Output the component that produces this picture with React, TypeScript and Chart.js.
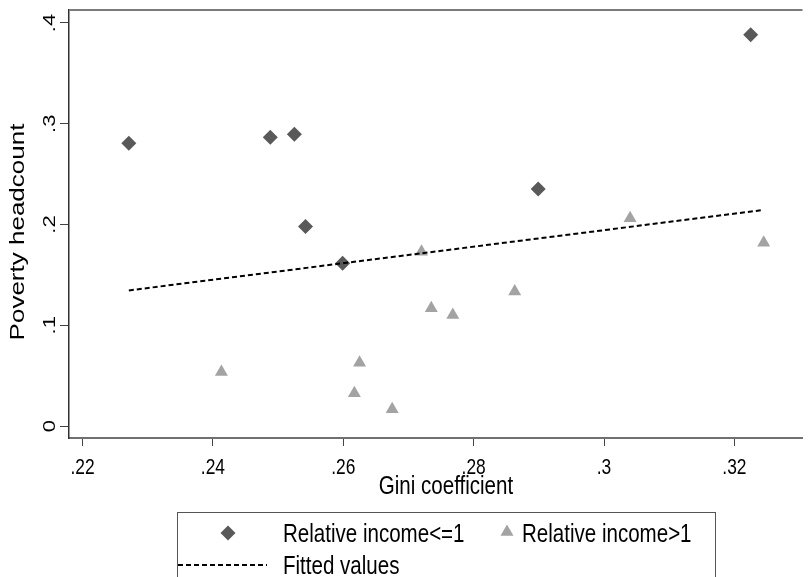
import React, { useEffect, useRef } from "react";
import { Chart, registerables } from "chart.js";

Chart.register(...registerables);

// ---- data ----
const lowIncomeGini = [0.2271, 0.2488, 0.2525, 0.2542, 0.2599, 0.2899, 0.3225];
const lowIncomePoverty = [0.2807, 0.2867, 0.2897, 0.1979, 0.1616, 0.2353, 0.3883];

const highIncomeGini = [0.2413, 0.2617, 0.2625, 0.2675, 0.272, 0.2735, 0.2768, 0.2863, 0.304, 0.3245];
const highIncomePoverty = [0.0536, 0.0325, 0.0629, 0.0166, 0.173, 0.1169, 0.1102, 0.1334, 0.2062, 0.182];

const fittedGini = [0.2271, 0.3245];
const fittedPoverty = [0.1346, 0.2145];

const xTickValues = [0.22, 0.24, 0.26, 0.28, 0.3, 0.32];
const xTickLabels = [".22", ".24", ".26", ".28", ".3", ".32"];
const yTickValues = [0, 0.1, 0.2, 0.3, 0.4];
const yTickLabels = ["0", ".1", ".2", ".3", ".4"];

const xTitle = "Gini coefficient";
const yTitle = "Poverty headcount";
const legendLabels = ["Relative income<=1", "Relative income>1", "Fitted values"];

const FONT = '"Liberation Sans", Arial, Helvetica, sans-serif';
const DIAMOND = "#595959";
const TRIANGLE = "#a3a3a3";
const SQUISH = 0.79; // the reference text is narrow (horizontally condensed)

function hText(ctx: any, text: string, x: number, y: number, size: number, align: string) {
  ctx.save();
  ctx.font = `${size}px ${FONT}`;
  ctx.textAlign = align;
  ctx.textBaseline = "alphabetic";
  ctx.translate(x, y);
  ctx.scale(SQUISH, 1);
  ctx.fillText(text, 0, 0);
  ctx.restore();
}

function vText(ctx: any, text: string, x: number, y: number, size: number) {
  ctx.save();
  ctx.font = `${size}px ${FONT}`;
  ctx.textAlign = "center";
  ctx.textBaseline = "alphabetic";
  ctx.translate(x, y);
  ctx.rotate(-Math.PI / 2);
  ctx.scale(1, SQUISH);
  ctx.fillText(text, 0, 0);
  ctx.restore();
}

const textPlugin = {
  id: "stataText",
  beforeDatasetsDraw(chart: any) {
    const { ctx, chartArea } = chart;
    ctx.save();
    ctx.strokeStyle = "#7a7a7a";
    ctx.lineWidth = 2;
    ctx.beginPath();
    ctx.moveTo(chartArea.left, chartArea.top);
    ctx.lineTo(chartArea.right, chartArea.top);
    ctx.stroke();
    ctx.restore();
  },
  afterDraw(chart: any) {
    const { ctx } = chart;
    const xs = chart.scales.x;
    const ys = chart.scales.y;
    ctx.save();
    ctx.fillStyle = "#000";
    // x tick labels
    xTickValues.forEach((v, i) => {
      hText(ctx, xTickLabels[i], xs.getPixelForValue(v), 474, 22, "center");
    });
    // y tick labels (rotated)
    yTickValues.forEach((v, i) => {
      vText(ctx, yTickLabels[i], 55, ys.getPixelForValue(v), 22);
    });
    // axis titles
    hText(ctx, xTitle, 446, 494, 26, "center");
    vText(ctx, yTitle, 24, 232, 26);

    // legend box
    ctx.strokeStyle = "#555";
    ctx.lineWidth = 1;
    ctx.strokeRect(177.5, 512.5, 538, 100);
    // diamond marker
    const r = 7.5;
    ctx.fillStyle = DIAMOND;
    ctx.beginPath();
    ctx.moveTo(228, 533 - r);
    ctx.lineTo(228 + r, 533);
    ctx.lineTo(228, 533 + r);
    ctx.lineTo(228 - r, 533);
    ctx.closePath();
    ctx.fill();
    // triangle marker
    ctx.fillStyle = TRIANGLE;
    const tx = 507, ty = 532;
    ctx.beginPath();
    ctx.moveTo(tx, ty - r);
    ctx.lineTo(tx + r * 0.866, ty + r / 2);
    ctx.lineTo(tx - r * 0.866, ty + r / 2);
    ctx.closePath();
    ctx.fill();
    // dashed line
    ctx.strokeStyle = "#000";
    ctx.lineWidth = 2;
    ctx.setLineDash([5, 3]);
    ctx.beginPath();
    ctx.moveTo(178, 565);
    ctx.lineTo(267, 565);
    ctx.stroke();
    ctx.setLineDash([]);
    // legend texts
    ctx.fillStyle = "#000";
    hText(ctx, legendLabels[0], 283, 542, 26, "left");
    hText(ctx, legendLabels[1], 522, 542, 26, "left");
    hText(ctx, legendLabels[2], 283, 574, 26, "left");
    ctx.restore();
  },
};

export default function App() {
  const canvasRef = useRef<HTMLCanvasElement | null>(null);

  useEffect(() => {
    const canvas = canvasRef.current;
    if (!canvas) return;
    const chart = new Chart(canvas, {
      type: "scatter",
      data: {
        datasets: [
          {
            label: legendLabels[0],
            data: lowIncomeGini.map((x, i) => ({ x, y: lowIncomePoverty[i] })),
            pointStyle: "rectRot",
            pointRadius: 7.5,
            pointBackgroundColor: DIAMOND,
            pointBorderWidth: 0,
            borderWidth: 0,
            order: 2,
          },
          {
            label: legendLabels[1],
            data: highIncomeGini.map((x, i) => ({ x, y: highIncomePoverty[i] })),
            pointStyle: "triangle",
            pointRadius: 7.5,
            pointBackgroundColor: TRIANGLE,
            pointBorderWidth: 0,
            borderWidth: 0,
            order: 3,
          },
          {
            label: legendLabels[2],
            data: fittedGini.map((x, i) => ({ x, y: fittedPoverty[i] })),
            showLine: true,
            pointRadius: 0,
            borderColor: "#000",
            borderWidth: 2,
            borderDash: [5, 3],
            fill: false,
            order: 1,
          } as any,
        ],
      },
      options: {
        animation: false,
        responsive: false,
        devicePixelRatio: 1,
        layout: { padding: { top: 10, left: 0, right: 0, bottom: 0 } },
        plugins: { legend: { display: false }, tooltip: { enabled: false }, title: { display: false } },
        scales: {
          x: {
            type: "linear",
            min: 0.21792,
            max: 0.33045,
            afterBuildTicks: (s: any) => {
              s.ticks = xTickValues.map((v) => ({ value: v }));
            },
            afterFit: (s: any) => {
              s.height = 139;
            },
            ticks: { display: false },
            grid: { drawOnChartArea: false, drawTicks: true, tickLength: 8, color: "#444", lineWidth: 1 },
            border: { display: true, color: "#707070", width: 2 },
          },
          y: {
            type: "linear",
            min: -0.0119,
            max: 0.4129,
            afterBuildTicks: (s: any) => {
              s.ticks = yTickValues.map((v) => ({ value: v }));
            },
            afterFit: (s: any) => {
              s.width = 69;
            },
            ticks: { display: false },
            grid: { drawOnChartArea: false, drawTicks: true, tickLength: 9, color: "#444", lineWidth: 1 },
            border: { display: true, color: "#303030", width: 1.5 },
          },
        },
      },
      plugins: [textPlugin],
    });
    return () => chart.destroy();
  }, []);

  return (
    <div style={{ position: "absolute", left: 0, top: 0, width: 810, height: 577, background: "#fff" }}>
      <canvas ref={canvasRef} width={810} height={577} style={{ width: 810, height: 577, display: "block" }} />
    </div>
  );
}
